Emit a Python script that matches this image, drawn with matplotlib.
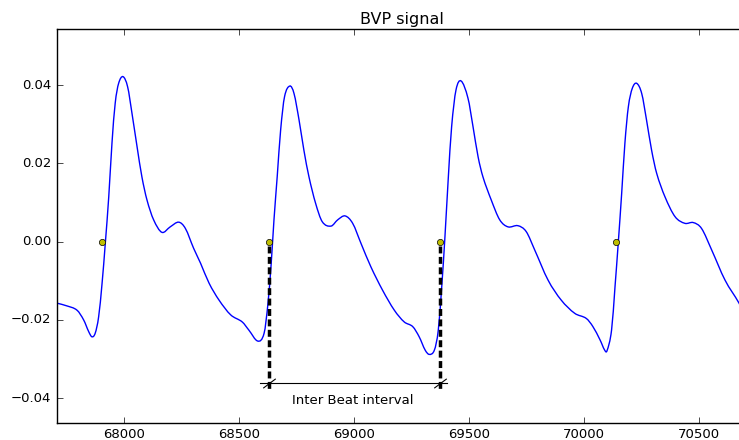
import numpy as np
import matplotlib
matplotlib.use('Agg')
import matplotlib.pyplot as plt
from matplotlib.path import Path
from matplotlib.patches import PathPatch

plt.style.use('classic')
plt.rcParams['figure.facecolor'] = 'white'
plt.rcParams['savefig.facecolor'] = 'white'
plt.rcParams['font.size'] = 9.5

# BVP samples
bvp_t = [67709, 67752, 67796, 67825, 67847, 67861, 67875, 67890, 67905, 67919,
         67934, 67948, 67962, 67977, 67996, 68016, 68035, 68057, 68078, 68100,
         68129, 68165, 68201, 68238, 68267, 68303, 68333, 68370, 68413, 68464,
         68514, 68543, 68582, 68609, 68626, 68640, 68652, 68666, 68681, 68698,
         68721, 68739, 68761, 68782, 68804, 68833, 68862, 68900, 68929, 68961,
         68994, 69030, 69073, 69124, 69175, 69218, 69255, 69283, 69309, 69327,
         69349, 69366, 69381, 69395, 69409, 69424, 69443, 69465, 69495,
         69517, 69539, 69560, 69596, 69633, 69669, 69712, 69748, 69785, 69843,
         69900, 69959, 70009, 70038, 70069, 70089, 70099, 70119, 70134, 70148,
         70163, 70177, 70192, 70209, 70228, 70250, 70271, 70293, 70315, 70351,
         70395, 70438, 70474, 70510, 70554, 70612, 70673, 70700]
bvp_v = [-0.0157, -0.0164, -0.0175, -0.0200, -0.0230, -0.0243, -0.0234, -0.0192, -0.0106, -0.0004,
         0.0115, 0.0252, 0.0354, 0.0405, 0.0422, 0.0396, 0.0328, 0.0243, 0.0166, 0.0107,
         0.0056, 0.0024, 0.0038, 0.0050, 0.0034, -0.0017, -0.0055, -0.0106, -0.0149, -0.0187,
         -0.0205, -0.0226, -0.0254, -0.0234, -0.0157, -0.0055, 0.0056, 0.0166, 0.0286, 0.0371,
         0.0398, 0.0379, 0.0311, 0.0234, 0.0166, 0.0098, 0.0051, 0.0040, 0.0056, 0.0066,
         0.0047, -0.0004, -0.0064, -0.0124, -0.0175, -0.0205, -0.0217, -0.0243, -0.0277, -0.0288,
         -0.0277, -0.0226, -0.0115, 0.0013, 0.0158, 0.0294, 0.0388, 0.0411, 0.0367,
         0.0294, 0.0217, 0.0166, 0.0107, 0.0056, 0.0038, 0.0041, 0.0026, -0.0021, -0.0098,
         -0.0149, -0.0183, -0.0196, -0.0217, -0.0251, -0.0277, -0.0279, -0.0226, -0.0115, -0.0004,
         0.0124, 0.0252, 0.0345, 0.0392, 0.0405, 0.0379, 0.0311, 0.0234, 0.0175, 0.0115,
         0.0064, 0.0047, 0.0049, 0.0034, -0.0021, -0.0098, -0.0157, -0.0190]

# detected beat onsets
beat_t = [67905, 68630, 69373, 70140]
beat_v = [0, 0, 0, 0]

ibi_start = 68630
ibi_end = 69373


def smooth_path(xs, ys):
    # cubic bezier through the read samples (hermite tangents)
    x = np.asarray(xs, float)
    y = np.asarray(ys, float)
    n = len(x)
    m = np.zeros(n)
    m[1:-1] = (y[2:] - y[:-2]) / (x[2:] - x[:-2])
    m[0] = (y[1] - y[0]) / (x[1] - x[0])
    m[-1] = (y[-1] - y[-2]) / (x[-1] - x[-2])
    verts = [(x[0], y[0])]
    codes = [Path.MOVETO]
    for i in range(n - 1):
        dx = x[i + 1] - x[i]
        verts += [(x[i] + dx / 3, y[i] + m[i] * dx / 3),
                  (x[i + 1] - dx / 3, y[i + 1] - m[i + 1] * dx / 3),
                  (x[i + 1], y[i + 1])]
        codes += [Path.CURVE4] * 3
    return Path(verts, codes)


fig = plt.figure(figsize=(7.39, 4.40), dpi=100)
ax = fig.add_axes([0.0771, 0.0393, 0.9323, 0.8941])

ax.add_patch(PathPatch(smooth_path(bvp_t, bvp_v), fill=False, edgecolor='b', lw=1))
ax.plot(beat_t, beat_v, 'o', color=(0.75, 0.75, 0), mec='k', mew=0.5, ms=4.5, zorder=3)

# inter beat interval annotation
for xx in (ibi_start, ibi_end):
    ax.plot([xx, xx], [-0.0012, -0.0381], 'k', lw=2.5, dashes=(5, 2.5))
ax.plot([68591, 69405], [-0.0362, -0.0362], 'k-', lw=0.8)
ax.plot([ibi_start, ibi_end], [-0.0362, -0.0362], ls='none', marker=[(-1, -0.75), (1, 0.75)],
        ms=9, mec='k', mew=0.8)
ax.text((ibi_start + ibi_end) / 2 - 7, -0.0405, 'Inter Beat interval',
        ha='center', va='center', fontsize=9.5)

ax.set_title('BVP signal', fontsize=11.5, pad=4)
ax.set_xlim(67709, 70703)
ax.set_ylim(-0.04626, 0.0543)
ax.set_xticks([68000, 68500, 69000, 69500, 70000, 70500])
ax.set_yticks([-0.04, -0.02, 0.00, 0.02, 0.04])
ax.set_yticklabels(['\u22120.04', '\u22120.02', '0.00', '0.02', '0.04'])

fig.savefig('out.png', dpi=100, facecolor='white')
